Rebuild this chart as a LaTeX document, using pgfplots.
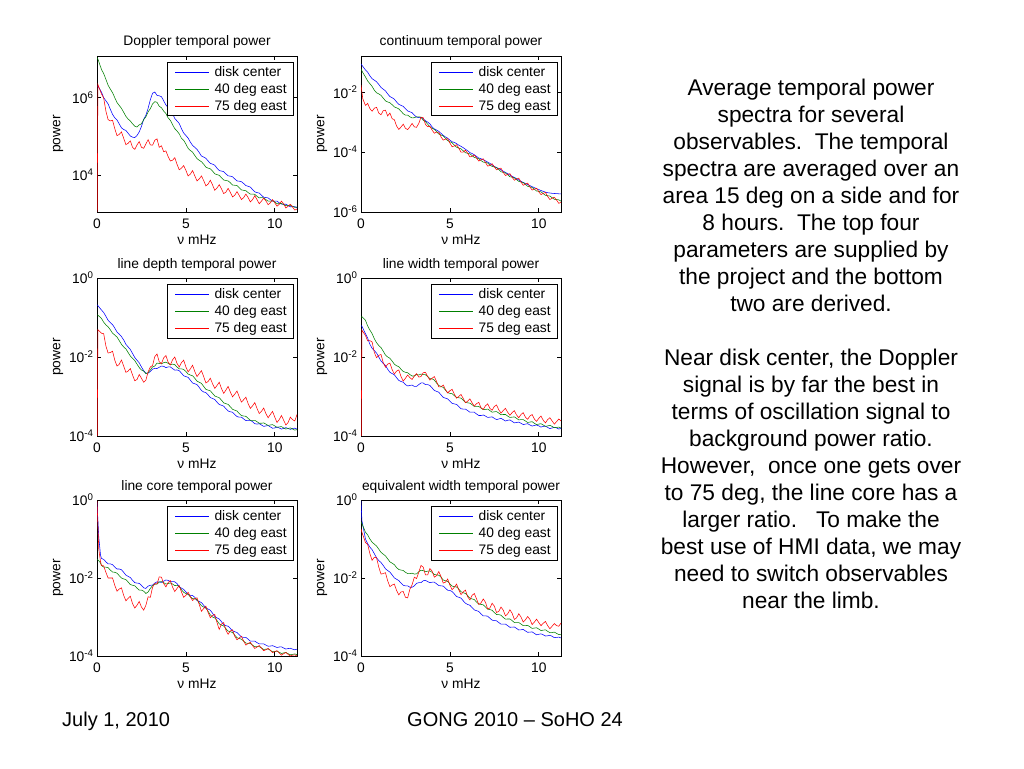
\documentclass[border=0pt]{standalone}
\usepackage{fontspec}
\setmainfont{Liberation Sans}
\usepackage{pgfplots}
\usepackage{pgfplotstable}
\pgfplotsset{compat=1.18}

\definecolor{mblue}{rgb}{0,0,1}
\definecolor{mgreen}{rgb}{0,0.5,0}
\definecolor{mred}{rgb}{1,0,0}

\newcommand{\pf}{\fontsize{13.8}{16}\selectfont}

\pgfplotsset{
  legend image code/.code={\path (-3pt,0pt); \draw[#1] (0pt,0pt) -- (34pt,0pt); \path (37pt,0pt);},
  myspec/.style={
    scale only axis, width=200pt,
    xmin=0, xmax=11.25,
    xtick={0,5,10}, xticklabels={0,5,10},
    yminorticks=false,
    tick align=inside, major tick length=4pt,
    axis line style={line width=0.6pt},
    every tick/.style={black,line width=0.6pt},
    tick label style={font=\pf},
    xticklabel style={yshift=-3.5pt},
    every axis label/.append style={font=\pf},
    title style={font=\pf, at={(0.5,1)}, anchor=base, yshift=4pt},
    xlabel={ν mHz}, ylabel={power},
    xlabel style={at={(axis description cs:0.5,-0.178)}, anchor=center},
    ylabel style={at={(axis description cs:-0.195,0.5)}, anchor=center},
    legend style={at={(1,1)}, anchor=north east, xshift=-3pt, yshift=-6pt,
      font=\pf, draw=black, line width=0.6pt, inner xsep=5pt, inner ysep=2pt,
      row sep=1.5pt, cells={anchor=west}},
    every axis plot/.append style={line width=0.55pt},
  }
}

% Doppler
\pgfplotstableread{
x dc e40 e75
0 2.0e6 1.1e7 1e2
0.05 2.0e6 1.0e7 2.2e6
0.25 1.4e6 5.4e6 1.26e6
0.375 1.0e6 4.2e6 9.8e5
0.5 8.3e5 3.0e6 4.5e5
0.625 6.9e5 2.1e6 2.7e5
0.75 5.0e5 1.66e6 2.5e5
0.875 3.7e5 1.35e6 2.6e5
1.0 3.0e5 1.0e6 1.58e5
1.125 2.65e5 7.5e5 1.04e5
1.25 2.1e5 6.3e5 1.12e5
1.375 1.66e5 5.3e5 1.3e5
1.5 1.5e5 4.2e5 8.9e4
1.625 1.42e5 3.3e5 6.1e4
1.75 1.2e5 2.8e5 6.6e4
1.875 1.02e5 2.5e5 7.6e4
2.0 9.5e4 2.1e5 5.2e4
2.125 9.3e4 1.83e5 4.6e4
2.25 1.05e5 1.74e5 6.0e4
2.375 1.3e5 1.98e5 7.3e4
2.5 1.8e5 2.1e5 5.2e4
2.625 2.75e5 2.7e5 4.9e4
2.75 3.5e5 3.2e5 6.3e4
2.875 5.3e5 4.3e5 8.2e4
3.0 8.9e5 5.2e5 6.0e4
3.125 1.3e6 6.9e5 5.9e4
3.25 1.4e6 7.9e5 7.9e4
3.375 1.15e6 7.6e5 8.6e4
3.5 1.12e6 6.0e5 5.2e4
3.625 1.06e6 5.5e5 5.7e4
3.75 8.3e5 4.5e5 4.0e4
3.875 6.5e5 3.9e5 4.2e4
4.0 5.6e5 3.0e5 3.0e4
4.125 4.8e5 2.6e5 2.3e4
4.25 3.8e5 2.0e5 2.4e4
4.375 2.9e5 1.58e5 2.8e4
4.5 2.5e5 1.38e5 1.9e4
4.625 2.15e5 1.16e5 1.36e4
4.75 1.58e5 8.9e4 1.5e4
4.875 1.22e5 7.9e4 1.75e4
5.0 1.05e5 6.3e4 1.32e4
5.125 9.0e4 4.9e4 9.4e3
5.25 7.1e4 4.3e4 1.05e4
5.375 5.8e4 3.9e4 1.3e4
5.5 5.2e4 3.2e4 9.5e3
5.625 4.6e4 2.65e4 7.0e3
5.75 3.8e4 2.4e4 7.9e3
5.875 3.1e4 2.2e4 9.4e3
6.0 2.9e4 1.9e4 7.2e3
6.125 2.7e4 1.6e4 5.2e3
6.25 2.3e4 1.5e4 5.8e3
6.375 2.0e4 1.44e4 7.3e3
6.5 1.9e4 1.26e4 5.5e3
6.625 1.78e4 1.07e4 4.0e3
6.75 1.5e4 1.02e4 4.6e3
6.875 1.3e4 9.8e3 5.6e3
7.0 1.26e4 8.5e3 4.4e3
7.125 1.22e4 7.4e3 3.3e3
7.25 1.07e4 7.2e3 3.6e3
7.375 9.5e3 7.0e3 4.5e3
7.5 9.3e3 6.3e3 3.55e3
7.625 9.0e3 5.5e3 2.7e3
7.75 7.9e3 5.4e3 3.0e3
7.875 7.0e3 5.3e3 3.7e3
8.0 6.9e3 4.7e3 2.95e3
8.125 6.7e3 4.1e3 2.3e3
8.25 6.0e3 4.0e3 2.6e3
8.375 5.3e3 3.9e3 3.2e3
8.5 5.1e3 3.5e3 2.6e3
8.625 4.85e3 3.2e3 2.0e3
8.75 4.2e3 3.2e3 2.3e3
8.875 3.65e3 3.15e3 2.9e3
9.0 3.5e3 2.8e3 2.3e3
9.125 3.4e3 2.55e3 1.8e3
9.25 3.0e3 2.6e3 2.1e3
9.375 2.65e3 2.55e3 2.5e3
9.5 2.6e3 2.3e3 2.14e3
9.625 2.55e3 2.1e3 1.7e3
9.75 2.3e3 2.1e3 1.9e3
9.875 2.1e3 2.15e3 2.3e3
10.0 2.1e3 2.0e3 1.9e3
10.125 2.1e3 1.8e3 1.55e3
10.25 1.9e3 1.8e3 1.74e3
10.375 1.76e3 1.84e3 2.1e3
10.5 1.74e3 1.7e3 1.78e3
10.625 1.75e3 1.6e3 1.4e3
10.75 1.62e3 1.62e3 1.55e3
10.875 1.5e3 1.65e3 1.74e3
11.0 1.51e3 1.55e3 1.48e3
11.125 1.52e3 1.45e3 1.23e3
11.25 1.41e3 1.48e3 1.32e3
}\tabDop

% continuum
\pgfplotstableread{
x dc e40 e75
0 8.7e-2 5.9e-2 1.7e-2
0.1 7.2e-2 4.5e-2 6.0e-3
0.25 5.5e-2 3.2e-2 3.6e-3
0.375 4.6e-2 2.35e-2 4.2e-3
0.5 3.5e-2 1.9e-2 2.8e-3
0.625 2.8e-2 1.55e-2 2.3e-3
0.75 2.5e-2 1.15e-2 2.9e-3
0.875 2.2e-2 9.5e-3 3.1e-3
1.0 1.8e-2 8.7e-3 2.0e-3
1.125 1.43e-2 7.8e-3 1.75e-3
1.25 1.25e-2 6.3e-3 2.4e-3
1.375 1.1e-2 5.1e-3 2.5e-3
1.5 8.7e-3 4.7e-3 1.6e-3
1.625 7.1e-3 4.4e-3 2.0e-3
1.75 6.5e-3 3.8e-3 1.3e-3
1.875 5.8e-3 3.2e-3 1.2e-3
2.0 4.7e-3 3.0e-3 7.4e-4
2.125 3.9e-3 2.75e-3 5.7e-4
2.25 3.6e-3 2.3e-3 6.8e-4
2.375 3.35e-3 1.9e-3 8.5e-4
2.5 2.8e-3 1.7e-3 6.2e-4
2.625 2.35e-3 1.7e-3 5.6e-4
2.75 2.2e-3 1.5e-3 7.0e-4
2.875 2.05e-3 1.38e-3 9.0e-4
3.0 1.7e-3 1.4e-3 6.9e-4
3.125 1.47e-3 1.5e-3 6.7e-4
3.25 1.4e-3 1.5e-3 9.0e-4
3.375 1.42e-3 1.45e-3 1.45e-3
3.5 1.3e-3 1.15e-3 1.4e-3
3.625 1.1e-3 1.04e-3 8.4e-4
3.75 1.0e-3 8.5e-4 7.0e-4
3.875 8.7e-4 6.9e-4 7.3e-4
4.0 6.9e-4 6.2e-4 5.4e-4
4.125 5.9e-4 5.7e-4 4.25e-4
4.25 5.4e-4 4.8e-4 4.6e-4
4.375 4.9e-4 4.0e-4 4.6e-4
4.5 4.2e-4 3.7e-4 3.2e-4
4.625 3.6e-4 3.45e-4 2.5e-4
4.75 3.2e-4 2.9e-4 2.7e-4
4.875 2.9e-4 2.4e-4 2.8e-4
5.0 2.5e-4 2.2e-4 2.0e-4
5.125 2.2e-4 2.05e-4 1.5e-4
5.25 2.1e-4 1.7e-4 1.6e-4
5.375 1.9e-4 1.45e-4 1.75e-4
5.5 1.7e-4 1.35e-4 1.35e-4
5.625 1.55e-4 1.28e-4 9.9e-5
5.75 1.4e-4 1.1e-4 1.0e-4
5.875 1.24e-4 9.5e-5 1.15e-4
6.0 1.1e-4 9.1e-5 9.1e-5
6.125 9.6e-5 8.7e-5 6.9e-5
6.25 8.9e-5 7.6e-5 7.2e-5
6.375 8.1e-5 6.6e-5 8.0e-5
6.5 7.1e-5 6.3e-5 6.3e-5
6.625 6.3e-5 6.0e-5 5.0e-5
6.75 6.0e-5 5.2e-5 5.5e-5
6.875 5.5e-5 4.6e-5 6.0e-5
7.0 5.1e-5 4.5e-5 4.5e-5
7.125 4.6e-5 4.3e-5 3.4e-5
7.25 4.2e-5 3.7e-5 3.6e-5
7.375 3.7e-5 3.3e-5 4.1e-5
7.5 3.3e-5 3.2e-5 3.2e-5
7.625 3.05e-5 3.0e-5 2.55e-5
7.75 2.8e-5 2.6e-5 2.8e-5
7.875 2.55e-5 2.2e-5 2.9e-5
8.0 2.3e-5 2.1e-5 2.1e-5
8.125 2.1e-5 2.0e-5 1.65e-5
8.25 1.9e-5 1.75e-5 1.8e-5
8.375 1.7e-5 1.5e-5 1.9e-5
8.5 1.55e-5 1.45e-5 1.45e-5
8.625 1.42e-5 1.38e-5 1.15e-5
8.75 1.3e-5 1.2e-5 1.25e-5
8.875 1.17e-5 1.05e-5 1.35e-5
9.0 1.05e-5 1.0e-5 1.0e-5
9.125 9.7e-6 9.6e-6 7.8e-6
9.25 8.9e-6 8.3e-6 8.5e-6
9.375 8.2e-6 7.2e-6 9.2e-6
9.5 7.6e-6 6.9e-6 6.9e-6
9.625 7.0e-6 6.6e-6 5.4e-6
9.75 6.5e-6 5.8e-6 5.8e-6
9.875 6.0e-6 5.0e-6 6.2e-6
10.0 5.6e-6 4.9e-6 4.7e-6
10.125 5.2e-6 4.7e-6 3.8e-6
10.25 4.9e-6 4.1e-6 4.2e-6
10.375 4.6e-6 3.6e-6 4.5e-6
10.5 4.4e-6 3.5e-6 3.3e-6
10.625 4.3e-6 3.4e-6 2.6e-6
10.75 4.2e-6 3.0e-6 2.9e-6
10.875 4.15e-6 2.65e-6 3.1e-6
11.0 4.1e-6 2.6e-6 2.5e-6
11.125 4.05e-6 2.55e-6 1.95e-6
11.25 4.0e-6 2.3e-6 2.1e-6
}\tabCont

% line depth
\pgfplotstableread{
x dc e40 e75
0 2.1e-1 1.17e-1 1e-5
0.05 2.0e-1 1.15e-1 4.9e-2
0.25 1.55e-1 9.5e-2 4.0e-2
0.375 1.34e-1 7.6e-2 3.9e-2
0.5 1.07e-1 6.5e-2 1.9e-2
0.625 8.5e-2 5.8e-2 1.26e-2
0.75 7.4e-2 4.9e-2 1.3e-2
0.875 6.6e-2 4.0e-2 1.4e-2
1.0 5.4e-2 3.6e-2 8.3e-3
1.125 4.3e-2 3.2e-2 5.9e-3
1.25 3.8e-2 2.6e-2 6.5e-3
1.375 3.3e-2 2.1e-2 8.4e-3
1.5 2.7e-2 1.8e-2 5.9e-3
1.625 2.1e-2 1.6e-2 4.1e-3
1.75 1.8e-2 1.3e-2 4.4e-3
1.875 1.55e-2 1.06e-2 5.1e-3
2.0 1.23e-2 9.3e-3 3.5e-3
2.125 9.7e-3 8.1e-3 2.5e-3
2.25 8.3e-3 6.6e-3 2.7e-3
2.375 7.1e-3 5.4e-3 3.6e-3
2.5 5.6e-3 4.7e-3 2.9e-3
2.625 4.5e-3 4.4e-3 2.3e-3
2.75 3.9e-3 3.8e-3 2.6e-3
2.875 3.9e-3 4.0e-3 4.2e-3
3.0 4.3e-3 4.7e-3 5.6e-3
3.125 4.9e-3 5.6e-3 6.1e-3
3.25 5.2e-3 5.9e-3 1.02e-2
3.375 5.1e-3 7.0e-3 1.19e-2
3.5 5.5e-3 6.9e-3 7.6e-3
3.625 5.9e-3 6.7e-3 6.8e-3
3.75 5.8e-3 7.2e-3 9.5e-3
3.875 5.4e-3 7.4e-3 1.09e-2
4.0 5.6e-3 6.9e-3 7.4e-3
4.125 5.6e-3 6.4e-3 6.3e-3
4.25 5.1e-3 6.6e-3 8.5e-3
4.375 4.65e-3 6.4e-3 1.0e-2
4.5 4.7e-3 5.6e-3 6.9e-3
4.625 4.5e-3 5.0e-3 5.6e-3
4.75 3.9e-3 5.0e-3 7.2e-3
4.875 3.35e-3 4.85e-3 8.3e-3
5.0 3.2e-3 4.3e-3 5.6e-3
5.125 3.05e-3 3.7e-3 4.2e-3
5.25 2.6e-3 3.5e-3 5.0e-3
5.375 2.2e-3 3.35e-3 6.2e-3
5.5 2.1e-3 2.9e-3 4.3e-3
5.625 2.0e-3 2.45e-3 3.2e-3
5.75 1.7e-3 2.3e-3 3.8e-3
5.875 1.42e-3 2.15e-3 4.5e-3
6.0 1.3e-3 1.8e-3 3.2e-3
6.125 1.26e-3 1.52e-3 2.2e-3
6.25 1.1e-3 1.45e-3 2.4e-3
6.375 9.4e-4 1.39e-3 2.9e-3
6.5 8.9e-4 1.2e-3 2.1e-3
6.625 8.4e-4 1.03e-3 1.6e-3
6.75 7.2e-4 9.8e-4 1.9e-3
6.875 6.3e-4 9.3e-4 2.3e-3
7.0 6.0e-4 8.1e-4 1.6e-3
7.125 5.7e-4 6.9e-4 1.2e-3
7.25 4.9e-4 6.6e-4 1.45e-3
7.375 4.3e-4 6.3e-4 1.8e-3
7.5 4.1e-4 5.5e-4 1.3e-3
7.625 4.0e-4 4.75e-4 9.8e-4
7.75 3.5e-4 4.5e-4 1.15e-3
7.875 3.1e-4 4.3e-4 1.38e-3
8.0 3.0e-4 3.7e-4 9.8e-4
8.125 3.0e-4 3.3e-4 7.2e-4
8.25 2.7e-4 3.2e-4 8.3e-4
8.375 2.45e-4 3.15e-4 9.6e-4
8.5 2.5e-4 2.8e-4 6.6e-4
8.625 2.5e-4 2.5e-4 5.0e-4
8.75 2.3e-4 2.5e-4 5.8e-4
8.875 2.05e-4 2.5e-4 7.0e-4
9.0 2.0e-4 2.3e-4 5.0e-4
9.125 2.05e-4 2.1e-4 3.7e-4
9.25 1.9e-4 2.1e-4 4.2e-4
9.375 1.75e-4 2.15e-4 5.1e-4
9.5 1.8e-4 2.0e-4 3.7e-4
9.625 1.84e-4 1.85e-4 2.9e-4
9.75 1.7e-4 1.9e-4 3.5e-4
9.875 1.57e-4 1.94e-4 4.2e-4
10.0 1.6e-4 1.8e-4 3.0e-4
10.125 1.68e-4 1.66e-4 2.2e-4
10.25 1.6e-4 1.7e-4 2.6e-4
10.375 1.5e-4 1.73e-4 3.3e-4
10.5 1.55e-4 1.6e-4 2.5e-4
10.625 1.63e-4 1.5e-4 1.9e-4
10.75 1.55e-4 1.55e-4 2.2e-4
10.875 1.47e-4 1.6e-4 3.0e-4
11.0 1.55e-4 1.5e-4 2.6e-4
11.125 1.58e-4 1.41e-4 2.4e-4
11.25 1.5e-4 1.45e-4 3.5e-4
}\tabDepth

% line width
\pgfplotstableread{
x dc e40 e75
0 6.3e-2 1.0e-1 1e-5
0.05 6.0e-2 1.05e-1 4.8e-2
0.25 3.9e-2 8.5e-2 3.5e-2
0.375 3.0e-2 6.1e-2 2.55e-2
0.5 2.1e-2 4.8e-2 2.6e-2
0.625 1.66e-2 3.9e-2 2.4e-2
0.75 1.45e-2 2.9e-2 1.3e-2
0.875 1.26e-2 2.3e-2 9.6e-3
1.0 1.0e-2 1.95e-2 1.1e-2
1.125 7.9e-3 1.73e-2 1.16e-2
1.25 6.9e-3 1.4e-2 7.2e-3
1.375 6.1e-3 1.12e-2 5.5e-3
1.5 4.9e-3 1.0e-2 6.6e-3
1.625 4.1e-3 9.3e-3 7.0e-3
1.75 3.8e-3 7.9e-3 4.8e-3
1.875 3.55e-3 6.6e-3 3.7e-3
2.0 3.0e-3 6.0e-3 4.4e-3
2.125 2.55e-3 5.7e-3 4.7e-3
2.25 2.4e-3 4.9e-3 3.2e-3
2.375 2.3e-3 4.3e-3 2.45e-3
2.5 2.0e-3 4.1e-3 2.9e-3
2.625 1.85e-3 4.0e-3 3.5e-3
2.75 1.9e-3 3.6e-3 3.0e-3
2.875 1.95e-3 3.3e-3 2.7e-3
3.0 1.8e-3 3.3e-3 3.3e-3
3.125 1.8e-3 3.6e-3 3.8e-3
3.25 2.0e-3 3.5e-3 3.1e-3
3.375 2.2e-3 3.7e-3 3.2e-3
3.5 2.2e-3 3.6e-3 4.0e-3
3.625 2.0e-3 3.55e-3 4.1e-3
3.75 2.0e-3 3.2e-3 3.2e-3
3.875 1.9e-3 2.85e-3 2.6e-3
4.0 1.65e-3 2.8e-3 2.9e-3
4.125 1.42e-3 2.6e-3 3.2e-3
4.25 1.35e-3 2.2e-3 2.4e-3
4.375 1.28e-3 1.9e-3 1.75e-3
4.5 1.1e-3 1.8e-3 1.75e-3
4.625 9.5e-4 1.7e-3 1.95e-3
4.75 9.1e-4 1.45e-3 1.5e-3
4.875 8.7e-4 1.25e-3 1.23e-3
5.0 7.6e-4 1.2e-3 1.4e-3
5.125 6.7e-4 1.18e-3 1.52e-3
5.25 6.5e-4 1.05e-3 1.15e-3
5.375 6.3e-4 9.4e-4 9.1e-4
5.5 5.6e-4 9.3e-4 1.0e-3
5.625 4.9e-4 9.1e-4 1.13e-3
5.75 4.8e-4 8.1e-4 8.9e-4
5.875 4.8e-4 7.1e-4 7.0e-4
6.0 4.4e-4 6.9e-4 7.6e-4
6.125 4.0e-4 6.8e-4 8.7e-4
6.25 4.0e-4 6.2e-4 6.9e-4
6.375 4.0e-4 5.6e-4 5.7e-4
6.5 3.6e-4 5.6e-4 6.6e-4
6.625 3.3e-4 5.6e-4 7.1e-4
6.75 3.3e-4 5.1e-4 5.2e-4
6.875 3.4e-4 4.65e-4 4.7e-4
7.0 3.2e-4 4.7e-4 5.8e-4
7.125 2.95e-4 4.8e-4 6.5e-4
7.25 3.0e-4 4.4e-4 5.0e-4
7.375 3.05e-4 4.0e-4 4.5e-4
7.5 2.8e-4 4.1e-4 5.6e-4
7.625 2.6e-4 4.15e-4 6.1e-4
7.75 2.7e-4 3.8e-4 4.6e-4
7.875 2.8e-4 3.45e-4 3.8e-4
8.0 2.6e-4 3.5e-4 4.4e-4
8.125 2.4e-4 3.5e-4 5.0e-4
8.25 2.5e-4 3.2e-4 4.0e-4
8.375 2.55e-4 2.95e-4 3.35e-4
8.5 2.35e-4 3.0e-4 3.9e-4
8.625 2.15e-4 3.05e-4 4.4e-4
8.75 2.2e-4 2.8e-4 3.4e-4
8.875 2.25e-4 2.55e-4 2.9e-4
9.0 2.1e-4 2.6e-4 3.5e-4
9.125 1.95e-4 2.6e-4 3.9e-4
9.25 2.0e-4 2.4e-4 3.0e-4
9.375 2.05e-4 2.2e-4 2.65e-4
9.5 1.9e-4 2.25e-4 3.2e-4
9.625 1.78e-4 2.3e-4 3.5e-4
9.75 1.85e-4 2.1e-4 2.7e-4
9.875 1.9e-4 1.95e-4 2.35e-4
10.0 1.8e-4 2.0e-4 2.8e-4
10.125 1.68e-4 2.05e-4 3.2e-4
10.25 1.75e-4 1.9e-4 2.5e-4
10.375 1.78e-4 1.75e-4 2.15e-4
10.5 1.65e-4 1.8e-4 2.6e-4
10.625 1.54e-4 1.86e-4 2.9e-4
10.75 1.6e-4 1.75e-4 2.4e-4
10.875 1.66e-4 1.62e-4 2.0e-4
11.0 1.6e-4 1.65e-4 2.3e-4
11.125 1.5e-4 1.68e-4 2.7e-4
11.25 1.55e-4 1.6e-4 2.4e-4
}\tabWidth

% line core
\pgfplotstableread{
x dc e40 e75
0 8.7e-1 3.0e-2 9.5e-1
0.1 1.1e-1 2.8e-2 5.5e-2
0.2 3.8e-2 2.4e-2 2.6e-2
0.25 3.2e-2 2.1e-2 2.1e-2
0.375 3.0e-2 1.9e-2 2.05e-2
0.5 2.6e-2 1.9e-2 1.4e-2
0.625 2.3e-2 1.84e-2 1.0e-2
0.75 2.3e-2 1.6e-2 1.0e-2
0.875 2.2e-2 1.42e-2 1.0e-2
1.0 1.9e-2 1.4e-2 6.5e-3
1.125 1.7e-2 1.33e-2 4.6e-3
1.25 1.7e-2 1.15e-2 5.2e-3
1.375 1.63e-2 1.0e-2 5.6e-3
1.5 1.4e-2 9.5e-3 3.6e-3
1.625 1.19e-2 9.1e-3 2.6e-3
1.75 1.1e-2 7.9e-3 3.0e-3
1.875 1.03e-2 6.8e-3 3.4e-3
2.0 8.7e-3 6.5e-3 2.2e-3
2.125 7.6e-3 6.3e-3 1.7e-3
2.25 7.4e-3 5.5e-3 2.0e-3
2.375 7.3e-3 4.9e-3 2.5e-3
2.5 6.5e-3 4.9e-3 1.8e-3
2.625 5.6e-3 4.6e-3 1.5e-3
2.75 5.4e-3 4.0e-3 2.0e-3
2.875 6.2e-3 4.4e-3 3.3e-3
3.0 6.5e-3 5.4e-3 3.2e-3
3.125 6.6e-3 6.4e-3 5.8e-3
3.25 7.4e-3 6.9e-3 7.2e-3
3.375 8.0e-3 7.0e-3 7.0e-3
3.5 7.9e-3 7.9e-3 1.07e-2
3.625 7.7e-3 8.1e-3 1.05e-2
3.75 8.3e-3 7.6e-3 7.2e-3
3.875 8.9e-3 7.0e-3 5.9e-3
4.0 8.7e-3 7.2e-3 7.6e-3
4.125 8.0e-3 7.5e-3 8.6e-3
4.25 8.1e-3 7.0e-3 5.8e-3
4.375 8.0e-3 6.4e-3 4.5e-3
4.5 7.2e-3 6.5e-3 5.4e-3
4.625 6.0e-3 6.0e-3 6.4e-3
4.75 5.5e-3 5.0e-3 4.4e-3
4.875 5.1e-3 4.3e-3 3.2e-3
5.0 4.4e-3 4.0e-3 3.6e-3
5.125 3.8e-3 3.8e-3 4.3e-3
5.25 3.6e-3 3.3e-3 3.3e-3
5.375 3.55e-3 2.95e-3 2.65e-3
5.5 3.2e-3 2.95e-3 2.95e-3
5.625 2.65e-3 2.75e-3 3.1e-3
5.75 2.5e-3 2.3e-3 2.1e-3
5.875 2.35e-3 1.95e-3 1.4e-3
6.0 2.0e-3 1.8e-3 1.65e-3
6.125 1.7e-3 1.68e-3 1.9e-3
6.25 1.6e-3 1.4e-3 1.3e-3
6.375 1.49e-3 1.13e-3 9.6e-4
6.5 1.25e-3 1.0e-3 1.1e-3
6.625 1.03e-3 9.5e-4 1.16e-3
6.75 9.5e-4 8.1e-4 7.2e-4
6.875 8.9e-4 6.7e-4 4.8e-4
7.0 7.6e-4 6.2e-4 6.6e-4
7.125 6.4e-4 5.9e-4 7.2e-4
7.25 6.0e-4 5.0e-4 4.6e-4
7.375 5.8e-4 4.35e-4 3.6e-4
7.5 5.1e-4 4.2e-4 4.4e-4
7.625 4.4e-4 4.0e-4 4.7e-4
7.75 4.2e-4 3.4e-4 3.2e-4
7.875 4.0e-4 2.95e-4 2.6e-4
8.0 3.5e-4 2.8e-4 2.9e-4
8.125 3.1e-4 2.7e-4 3.2e-4
8.25 3.0e-4 2.4e-4 2.4e-4
8.375 3.0e-4 2.15e-4 1.9e-4
8.5 2.7e-4 2.1e-4 2.1e-4
8.625 2.4e-4 2.1e-4 2.25e-4
8.75 2.4e-4 1.9e-4 1.85e-4
8.875 2.4e-4 1.73e-4 1.56e-4
9.0 2.2e-4 1.75e-4 1.7e-4
9.125 2.05e-4 1.75e-4 1.85e-4
9.25 2.05e-4 1.6e-4 1.6e-4
9.375 2.05e-4 1.47e-4 1.37e-4
9.5 1.9e-4 1.5e-4 1.45e-4
9.625 1.78e-4 1.52e-4 1.56e-4
9.75 1.8e-4 1.4e-4 1.4e-4
9.875 1.84e-4 1.28e-4 1.22e-4
10.0 1.75e-4 1.3e-4 1.3e-4
10.125 1.65e-4 1.33e-4 1.37e-4
10.25 1.7e-4 1.25e-4 1.2e-4
10.375 1.72e-4 1.16e-4 1.05e-4
10.5 1.6e-4 1.2e-4 1.15e-4
10.625 1.51e-4 1.23e-4 1.23e-4
10.75 1.55e-4 1.15e-4 1.1e-4
10.875 1.58e-4 1.07e-4 1.0e-4
11.0 1.5e-4 1.1e-4 1.05e-4
11.125 1.44e-4 1.13e-4 1.07e-4
11.25 1.5e-4 1.08e-4 1.0e-4
}\tabCore

% equivalent width
\pgfplotstableread{
x dc e40 e75
0 9.5e-1 2.7e-1 1.8e-1
0.05 3.0e-1 2.5e-1 1.5e-1
0.25 1.0e-1 1.5e-1 8.1e-2
0.375 7.6e-2 1.27e-1 7.3e-2
0.5 6.2e-2 1.0e-1 4.2e-2
0.625 5.3e-2 8.3e-2 2.85e-2
0.75 4.2e-2 7.4e-2 3.4e-2
0.875 3.3e-2 6.6e-2 3.3e-2
1.0 2.8e-2 5.5e-2 1.9e-2
1.125 2.5e-2 4.55e-2 1.26e-2
1.25 2.1e-2 4.1e-2 1.3e-2
1.375 1.73e-2 3.7e-2 1.37e-2
1.5 1.55e-2 3.1e-2 8.5e-3
1.625 1.42e-2 2.6e-2 6.0e-3
1.75 1.2e-2 2.4e-2 6.6e-3
1.875 1.01e-2 2.2e-2 7.0e-3
2.0 9.3e-3 1.85e-2 4.8e-3
2.125 8.6e-3 1.65e-2 3.7e-3
2.25 7.4e-3 1.6e-2 4.4e-3
2.375 6.5e-3 1.56e-2 4.5e-3
2.5 6.3e-3 1.4e-2 3.2e-3
2.625 6.3e-3 1.3e-2 3.1e-3
2.75 5.8e-3 1.3e-2 5.2e-3
2.875 5.8e-3 1.33e-2 6.7e-3
3.0 6.3e-3 1.26e-2 1.05e-2
3.125 7.3e-3 1.28e-2 9.7e-3
3.25 7.6e-3 1.45e-2 1.4e-2
3.375 7.6e-3 1.58e-2 2.1e-2
3.5 8.5e-3 1.55e-2 1.9e-2
3.625 8.7e-3 1.45e-2 1.2e-2
3.75 8.1e-3 1.5e-2 1.2e-2
3.875 7.6e-3 1.52e-2 1.75e-2
4.0 7.8e-3 1.4e-2 1.5e-2
4.125 7.8e-3 1.23e-2 1.05e-2
4.25 7.1e-3 1.2e-2 1.15e-2
4.375 6.4e-3 1.18e-2 1.46e-2
4.5 6.3e-3 1.05e-2 1.1e-2
4.625 6.2e-3 8.9e-3 7.4e-3
4.75 5.5e-3 8.5e-3 7.8e-3
4.875 4.85e-3 8.2e-3 9.4e-3
5.0 4.8e-3 7.1e-3 6.6e-3
5.125 4.5e-3 6.2e-3 5.0e-3
5.25 3.9e-3 6.0e-3 5.8e-3
5.375 3.35e-3 5.9e-3 7.0e-3
5.5 3.2e-3 5.2e-3 5.0e-3
5.625 3.05e-3 4.45e-3 3.75e-3
5.75 2.6e-3 4.2e-3 4.4e-3
5.875 2.25e-3 4.0e-3 4.9e-3
6.0 2.1e-3 3.5e-3 3.3e-3
6.125 2.0e-3 3.05e-3 2.75e-3
6.25 1.75e-3 2.9e-3 3.6e-3
6.375 1.52e-3 2.8e-3 4.0e-3
6.5 1.45e-3 2.4e-3 2.9e-3
6.625 1.39e-3 2.15e-3 2.1e-3
6.75 1.2e-3 2.1e-3 2.3e-3
6.875 1.07e-3 2.05e-3 2.9e-3
7.0 1.07e-3 1.8e-3 2.4e-3
7.125 1.05e-3 1.59e-3 1.6e-3
7.25 9.3e-4 1.55e-3 1.7e-3
7.375 8.3e-4 1.49e-3 2.25e-3
7.5 8.1e-4 1.3e-3 1.9e-3
7.625 8.0e-4 1.16e-3 1.3e-3
7.75 7.2e-4 1.15e-3 1.4e-3
7.875 6.55e-4 1.11e-3 1.8e-3
8.0 6.6e-4 9.8e-4 1.5e-3
8.125 6.6e-4 8.8e-4 1.07e-3
8.25 6.0e-4 8.9e-4 1.2e-3
8.375 5.45e-4 8.9e-4 1.53e-3
8.5 5.5e-4 8.1e-4 1.25e-3
8.625 5.55e-4 7.2e-4 8.7e-4
8.75 5.1e-4 7.2e-4 9.5e-4
8.875 4.65e-4 7.2e-4 1.21e-3
9.0 4.7e-4 6.6e-4 1.0e-3
9.125 4.8e-4 6.0e-4 7.4e-4
9.25 4.4e-4 6.0e-4 8.5e-4
9.375 4.05e-4 6.1e-4 1.03e-3
9.5 4.1e-4 5.6e-4 8.7e-4
9.625 4.15e-4 5.1e-4 6.4e-4
9.75 3.8e-4 5.2e-4 7.4e-4
9.875 3.5e-4 5.3e-4 8.8e-4
10.0 3.6e-4 4.9e-4 7.2e-4
10.125 3.7e-4 4.5e-4 6.0e-4
10.25 3.5e-4 4.6e-4 6.9e-4
10.375 3.25e-4 4.7e-4 7.7e-4
10.5 3.3e-4 4.3e-4 6.0e-4
10.625 3.4e-4 3.95e-4 5.0e-4
10.75 3.2e-4 4.0e-4 5.8e-4
10.875 2.95e-4 4.1e-4 6.8e-4
11.0 3.0e-4 3.8e-4 6.0e-4
11.125 3.05e-4 3.55e-4 5.8e-4
11.25 2.9e-4 3.6e-4 7.0e-4
}\tabEqw

\newcommand{\threecurves}[1]{%
  \addplot[mblue] table[x=x,y=dc]{#1};
  \addplot[mgreen] table[x=x,y=e40]{#1};
  \addplot[mred] table[x=x,y=e75]{#1};
  \legend{disk center,40 deg east,75 deg east}
}

\begin{document}
\begin{tikzpicture}[x=1pt,y=1pt]
\fill[white] (0,0) rectangle (1024,768);
\useasboundingbox (0,0) rectangle (1024,768);

\begin{axis}[myspec, ymode=log, at={(97pt,556pt)}, anchor=south west, height=156pt,
  title={Doppler temporal power}, ymin=1.1e3, ymax=1.2e7,
  ytick={1e4,1e6}, yticklabels={10\textsuperscript{4},10\textsuperscript{6}}]
\threecurves{\tabDop}
\end{axis}

\begin{axis}[myspec, ymode=log, at={(361pt,556pt)}, anchor=south west, height=156pt,
  title={continuum temporal power}, ymin=1e-6, ymax=1.6e-1,
  ytick={1e-6,1e-4,1e-2}, yticklabels={10\textsuperscript{-6},10\textsuperscript{-4},10\textsuperscript{-2}}]
\threecurves{\tabCont}
\end{axis}

\begin{axis}[myspec, ymode=log, at={(97pt,332pt)}, anchor=south west, height=158pt,
  title={line depth temporal power}, ymin=1e-4, ymax=1,
  ytick={1e-4,1e-2,1}, yticklabels={10\textsuperscript{-4},10\textsuperscript{-2},10\textsuperscript{0}}]
\threecurves{\tabDepth}
\end{axis}

\begin{axis}[myspec, ymode=log, at={(361pt,332pt)}, anchor=south west, height=158pt,
  title={line width temporal power}, ymin=1e-4, ymax=1,
  ytick={1e-4,1e-2,1}, yticklabels={10\textsuperscript{-4},10\textsuperscript{-2},10\textsuperscript{0}}]
\threecurves{\tabWidth}
\end{axis}

\begin{axis}[myspec, ymode=log, at={(97pt,112pt)}, anchor=south west, height=156pt,
  title={line core temporal power}, ymin=1e-4, ymax=1,
  ytick={1e-4,1e-2,1}, yticklabels={10\textsuperscript{-4},10\textsuperscript{-2},10\textsuperscript{0}}]
\threecurves{\tabCore}
\end{axis}

\begin{axis}[myspec, ymode=log, at={(361pt,112pt)}, anchor=south west, height=156pt,
  title={equivalent width temporal power}, ymin=1e-4, ymax=1,
  ytick={1e-4,1e-2,1}, yticklabels={10\textsuperscript{-4},10\textsuperscript{-2},10\textsuperscript{0}}]
\threecurves{\tabEqw}
\end{axis}

\node[anchor=north, align=center, inner sep=0pt, font=\fontsize{22.7}{27}\selectfont]
  at (811,689) {Average temporal power\\
  spectra for several\\
  observables.\ \ The temporal\\
  spectra are averaged over an\\
  area 15 deg on a side and for\\
  8 hours.\ \ The top four\\
  parameters are supplied by\\
  the project and the bottom\\
  two are derived.\\[27pt]
  Near disk center, the Doppler\\
  signal is by far the best in\\
  terms of oscillation signal to\\
  background power ratio.\\
  However,\ \ once one gets over\\
  to 75 deg, the line core has a\\
  larger ratio.\ \ \ To make the\\
  best use of HMI data, we may\\
  need to switch observables\\
  near the limb.};

\node[anchor=base west, inner sep=0pt, font=\fontsize{20}{24}\selectfont] at (62,42) {July 1, 2010};
\node[anchor=base west, inner sep=0pt, font=\fontsize{20}{24}\selectfont] at (407,42) {GONG 2010 – SoHO 24};
\end{tikzpicture}
\end{document}
